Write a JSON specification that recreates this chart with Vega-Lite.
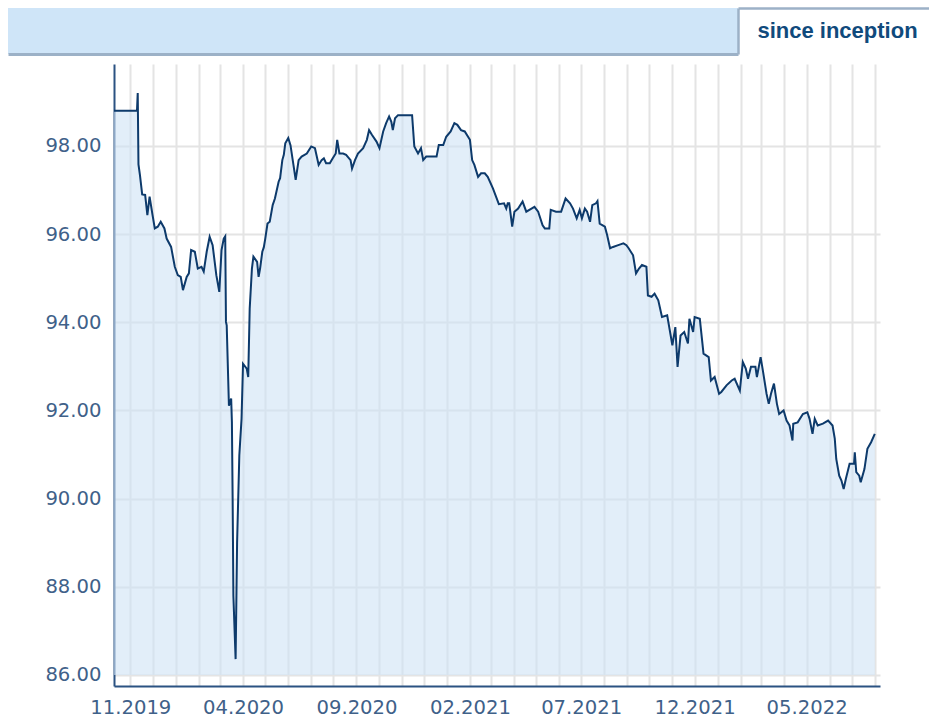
{
  "$schema": "https://vega.github.io/schema/vega-lite/v6.json",
  "background": "white",
  "padding": {"left": 8, "top": 8, "right": 0, "bottom": 0},
  "spacing": 10,
  "config": {"view": {"stroke": null}, "axis": {"domainCap": "butt"}},
  "vconcat": [
    {
      "spacing": 0,
      "hconcat": [
        {
          "width": 730,
          "height": 46,
          "view": {"fill": "#cfe5f8"},
          "data": {"values": [{"tab": "header"}]},
          "mark": {"type": "rect", "color": "#cfe5f8"},
          "encoding": {
            "x": {"field": "tab", "type": "nominal", "scale": {"paddingInner": 0, "paddingOuter": 0},
              "axis": {"orient": "bottom", "labels": false, "ticks": false, "title": null, "domainColor": "#9cb1c7", "domainWidth": 3}}
          }
        },
        {
          "width": 191,
          "height": 46,
          "data": {"values": [{"tab": "since inception"}]},
          "mark": {"type": "text", "font": "Liberation Sans", "fontSize": 22, "fontWeight": "bold", "color": "#104a7c", "dx": 4},
          "encoding": {
            "text": {"field": "tab"},
            "x": {"field": "tab", "type": "nominal", "axis": {"orient": "top", "labels": false, "ticks": false, "title": null, "domainColor": "#9cb1c7", "domainWidth": 2.5}},
            "y": {"field": "tab", "type": "nominal", "axis": {"orient": "left", "labels": false, "ticks": false, "title": null, "domainColor": "#9cb1c7", "domainWidth": 2.5}}
          }
        }
      ]
    },
    {
      "width": 872,
      "height": 622,
      "data": {"values": [
        {"date": "2019-10-10", "value": 98.80}, {"date": "2019-11-10", "value": 98.80}, {"date": "2019-11-11", "value": 99.20},
        {"date": "2019-11-12", "value": 97.58}, {"date": "2019-11-14", "value": 97.34}, {"date": "2019-11-17", "value": 96.90},
        {"date": "2019-11-21", "value": 96.89}, {"date": "2019-11-24", "value": 96.43}, {"date": "2019-11-27", "value": 96.85},
        {"date": "2019-12-01", "value": 96.43}, {"date": "2019-12-04", "value": 96.13}, {"date": "2019-12-08", "value": 96.17},
        {"date": "2019-12-12", "value": 96.28}, {"date": "2019-12-17", "value": 96.13}, {"date": "2019-12-20", "value": 95.90},
        {"date": "2019-12-26", "value": 95.71}, {"date": "2019-12-31", "value": 95.26}, {"date": "2020-01-04", "value": 95.07},
        {"date": "2020-01-08", "value": 95.03}, {"date": "2020-01-11", "value": 94.73}, {"date": "2020-01-16", "value": 95.03},
        {"date": "2020-01-19", "value": 95.11}, {"date": "2020-01-22", "value": 95.64}, {"date": "2020-01-27", "value": 95.60},
        {"date": "2020-01-31", "value": 95.22}, {"date": "2020-02-05", "value": 95.26}, {"date": "2020-02-08", "value": 95.15},
        {"date": "2020-02-12", "value": 95.60}, {"date": "2020-02-16", "value": 95.94}, {"date": "2020-02-20", "value": 95.75},
        {"date": "2020-02-25", "value": 95.07}, {"date": "2020-02-29", "value": 94.69}, {"date": "2020-03-03", "value": 95.64},
        {"date": "2020-03-06", "value": 95.90}, {"date": "2020-03-08", "value": 95.95}, {"date": "2020-03-09", "value": 94.01},
        {"date": "2020-03-10", "value": 93.93}, {"date": "2020-03-13", "value": 92.11}, {"date": "2020-03-16", "value": 92.27},
        {"date": "2020-03-17", "value": 91.74}, {"date": "2020-03-18", "value": 89.99}, {"date": "2020-03-19", "value": 87.80},
        {"date": "2020-03-22", "value": 86.36}, {"date": "2020-03-24", "value": 89.01}, {"date": "2020-03-27", "value": 90.98},
        {"date": "2020-03-30", "value": 91.81}, {"date": "2020-04-01", "value": 93.06}, {"date": "2020-04-06", "value": 92.95},
        {"date": "2020-04-08", "value": 92.76}, {"date": "2020-04-10", "value": 94.31}, {"date": "2020-04-13", "value": 95.22},
        {"date": "2020-04-15", "value": 95.49}, {"date": "2020-04-20", "value": 95.37}, {"date": "2020-04-22", "value": 95.03},
        {"date": "2020-04-24", "value": 95.22}, {"date": "2020-04-27", "value": 95.60}, {"date": "2020-04-29", "value": 95.70},
        {"date": "2020-05-01", "value": 95.90}, {"date": "2020-05-04", "value": 96.24}, {"date": "2020-05-07", "value": 96.28},
        {"date": "2020-05-11", "value": 96.66}, {"date": "2020-05-14", "value": 96.81}, {"date": "2020-05-19", "value": 97.19},
        {"date": "2020-05-21", "value": 97.27}, {"date": "2020-05-24", "value": 97.68}, {"date": "2020-05-26", "value": 97.80},
        {"date": "2020-05-28", "value": 98.06}, {"date": "2020-06-01", "value": 98.18}, {"date": "2020-06-04", "value": 98.02},
        {"date": "2020-06-08", "value": 97.57}, {"date": "2020-06-11", "value": 97.23}, {"date": "2020-06-15", "value": 97.68},
        {"date": "2020-06-19", "value": 97.76}, {"date": "2020-06-26", "value": 97.83}, {"date": "2020-07-02", "value": 97.99},
        {"date": "2020-07-07", "value": 97.95}, {"date": "2020-07-12", "value": 97.57}, {"date": "2020-07-16", "value": 97.68},
        {"date": "2020-07-19", "value": 97.72}, {"date": "2020-07-22", "value": 97.61}, {"date": "2020-07-27", "value": 97.61},
        {"date": "2020-07-31", "value": 97.72}, {"date": "2020-08-04", "value": 97.83}, {"date": "2020-08-06", "value": 98.14},
        {"date": "2020-08-09", "value": 97.83}, {"date": "2020-08-14", "value": 97.83}, {"date": "2020-08-18", "value": 97.80},
        {"date": "2020-08-24", "value": 97.68}, {"date": "2020-08-26", "value": 97.49}, {"date": "2020-08-30", "value": 97.68},
        {"date": "2020-09-03", "value": 97.83}, {"date": "2020-09-10", "value": 97.95}, {"date": "2020-09-15", "value": 98.14},
        {"date": "2020-09-18", "value": 98.36}, {"date": "2020-09-22", "value": 98.25}, {"date": "2020-09-28", "value": 98.10},
        {"date": "2020-10-02", "value": 97.95}, {"date": "2020-10-07", "value": 98.33}, {"date": "2020-10-11", "value": 98.52},
        {"date": "2020-10-15", "value": 98.67}, {"date": "2020-10-18", "value": 98.55}, {"date": "2020-10-20", "value": 98.36},
        {"date": "2020-10-23", "value": 98.63}, {"date": "2020-10-27", "value": 98.70}, {"date": "2020-11-15", "value": 98.70},
        {"date": "2020-11-18", "value": 97.99}, {"date": "2020-11-23", "value": 97.83}, {"date": "2020-11-27", "value": 97.95},
        {"date": "2020-11-30", "value": 97.68}, {"date": "2020-12-04", "value": 97.76}, {"date": "2020-12-09", "value": 97.76},
        {"date": "2020-12-18", "value": 97.76}, {"date": "2020-12-21", "value": 98.02}, {"date": "2020-12-27", "value": 98.02},
        {"date": "2020-12-31", "value": 98.21}, {"date": "2021-01-06", "value": 98.33}, {"date": "2021-01-11", "value": 98.52},
        {"date": "2021-01-15", "value": 98.48}, {"date": "2021-01-20", "value": 98.36}, {"date": "2021-01-25", "value": 98.33},
        {"date": "2021-02-01", "value": 98.14}, {"date": "2021-02-04", "value": 97.68}, {"date": "2021-02-07", "value": 97.57},
        {"date": "2021-02-12", "value": 97.30}, {"date": "2021-02-16", "value": 97.38}, {"date": "2021-02-21", "value": 97.38},
        {"date": "2021-02-25", "value": 97.30}, {"date": "2021-03-04", "value": 97.04}, {"date": "2021-03-12", "value": 96.68},
        {"date": "2021-03-19", "value": 96.70}, {"date": "2021-03-22", "value": 96.58}, {"date": "2021-03-24", "value": 96.70},
        {"date": "2021-03-26", "value": 96.70}, {"date": "2021-03-30", "value": 96.17}, {"date": "2021-04-02", "value": 96.51},
        {"date": "2021-04-07", "value": 96.58}, {"date": "2021-04-13", "value": 96.74}, {"date": "2021-04-18", "value": 96.51},
        {"date": "2021-04-25", "value": 96.58}, {"date": "2021-04-29", "value": 96.62}, {"date": "2021-05-04", "value": 96.51},
        {"date": "2021-05-10", "value": 96.20}, {"date": "2021-05-13", "value": 96.13}, {"date": "2021-05-19", "value": 96.13},
        {"date": "2021-05-21", "value": 96.55}, {"date": "2021-05-28", "value": 96.51}, {"date": "2021-06-04", "value": 96.51},
        {"date": "2021-06-10", "value": 96.81}, {"date": "2021-06-16", "value": 96.70}, {"date": "2021-06-20", "value": 96.58},
        {"date": "2021-06-25", "value": 96.36}, {"date": "2021-06-29", "value": 96.55}, {"date": "2021-07-02", "value": 96.36},
        {"date": "2021-07-06", "value": 96.58}, {"date": "2021-07-09", "value": 96.51}, {"date": "2021-07-13", "value": 96.28},
        {"date": "2021-07-16", "value": 96.66}, {"date": "2021-07-21", "value": 96.70}, {"date": "2021-07-23", "value": 96.75},
        {"date": "2021-07-26", "value": 96.24}, {"date": "2021-08-02", "value": 96.17}, {"date": "2021-08-05", "value": 95.98},
        {"date": "2021-08-09", "value": 95.68}, {"date": "2021-08-13", "value": 95.71}, {"date": "2021-08-20", "value": 95.75},
        {"date": "2021-08-27", "value": 95.79}, {"date": "2021-08-31", "value": 95.75}, {"date": "2021-09-03", "value": 95.68},
        {"date": "2021-09-09", "value": 95.52}, {"date": "2021-09-13", "value": 95.11}, {"date": "2021-09-17", "value": 95.22},
        {"date": "2021-09-21", "value": 95.30}, {"date": "2021-09-27", "value": 95.26}, {"date": "2021-09-29", "value": 94.61},
        {"date": "2021-10-04", "value": 94.58}, {"date": "2021-10-08", "value": 94.65}, {"date": "2021-10-13", "value": 94.50},
        {"date": "2021-10-18", "value": 94.12}, {"date": "2021-10-25", "value": 94.16}, {"date": "2021-11-01", "value": 93.48},
        {"date": "2021-11-05", "value": 93.89}, {"date": "2021-11-08", "value": 92.99}, {"date": "2021-11-12", "value": 93.70},
        {"date": "2021-11-17", "value": 93.78}, {"date": "2021-11-22", "value": 93.52}, {"date": "2021-11-24", "value": 94.08},
        {"date": "2021-11-29", "value": 93.78}, {"date": "2021-12-01", "value": 94.12}, {"date": "2021-12-08", "value": 94.08},
        {"date": "2021-12-13", "value": 93.29}, {"date": "2021-12-20", "value": 93.21}, {"date": "2021-12-23", "value": 92.68},
        {"date": "2021-12-28", "value": 92.76}, {"date": "2022-01-03", "value": 92.38}, {"date": "2022-01-06", "value": 92.42},
        {"date": "2022-01-13", "value": 92.57}, {"date": "2022-01-20", "value": 92.68}, {"date": "2022-01-24", "value": 92.72},
        {"date": "2022-01-31", "value": 92.45}, {"date": "2022-02-04", "value": 93.10}, {"date": "2022-02-08", "value": 92.95},
        {"date": "2022-02-11", "value": 92.72}, {"date": "2022-02-15", "value": 92.99}, {"date": "2022-02-21", "value": 92.99},
        {"date": "2022-02-23", "value": 92.76}, {"date": "2022-02-28", "value": 93.21}, {"date": "2022-03-03", "value": 92.91},
        {"date": "2022-03-08", "value": 92.38}, {"date": "2022-03-11", "value": 92.15}, {"date": "2022-03-14", "value": 92.38},
        {"date": "2022-03-18", "value": 92.61}, {"date": "2022-03-22", "value": 92.15}, {"date": "2022-03-25", "value": 91.92},
        {"date": "2022-03-31", "value": 92.00}, {"date": "2022-04-04", "value": 91.77}, {"date": "2022-04-08", "value": 91.66},
        {"date": "2022-04-12", "value": 91.32}, {"date": "2022-04-13", "value": 91.70}, {"date": "2022-04-19", "value": 91.73},
        {"date": "2022-04-26", "value": 91.92}, {"date": "2022-05-02", "value": 91.96}, {"date": "2022-05-05", "value": 91.81},
        {"date": "2022-05-09", "value": 91.47}, {"date": "2022-05-12", "value": 91.81}, {"date": "2022-05-16", "value": 91.66},
        {"date": "2022-05-23", "value": 91.70}, {"date": "2022-05-30", "value": 91.77}, {"date": "2022-06-05", "value": 91.66},
        {"date": "2022-06-08", "value": 91.36}, {"date": "2022-06-10", "value": 90.90}, {"date": "2022-06-14", "value": 90.52},
        {"date": "2022-06-17", "value": 90.41}, {"date": "2022-06-20", "value": 90.22}, {"date": "2022-06-23", "value": 90.45},
        {"date": "2022-06-28", "value": 90.79}, {"date": "2022-07-04", "value": 90.79}, {"date": "2022-07-05", "value": 91.05},
        {"date": "2022-07-07", "value": 90.60}, {"date": "2022-07-11", "value": 90.52}, {"date": "2022-07-13", "value": 90.37},
        {"date": "2022-07-18", "value": 90.67}, {"date": "2022-07-22", "value": 91.13}, {"date": "2022-07-27", "value": 91.28},
        {"date": "2022-08-01", "value": 91.47}
      ]},
      "encoding": {
        "x": {
          "field": "date", "type": "temporal",
          "scale": {"type": "utc", "range": [106, 872], "domain": [{"year": 2019, "month": 10, "date": 10, "utc": true}, {"year": 2022, "month": 8, "date": 8, "utc": true}]},
          "axis": {
            "title": null,
            "tickCount": {"interval": "month", "step": 1},
            "labelExpr": "(((utcyear(datum.value) - 2019) * 12 + utcmonth(datum.value) - 10) % 5 == 0) ? utcFormat(datum.value, '%m.%Y') : ''",
            "labelFont": "DejaVu Sans", "labelFontSize": 19.6, "labelColor": "#3f6189", "labelPadding": 12,
            "labelOverlap": false, "labelFlush": false,
            "ticks": false, "domainColor": "#2b5282", "domainWidth": 2,
            "grid": true, "gridColor": "#e4e4e4", "gridWidth": 2
          }
        }
      },
      "layer": [
        {
          "mark": {"type": "area", "color": "#cfe3f5", "opacity": 0.6},
          "encoding": {
            "y": {
              "field": "value", "type": "quantitative",
              "scale": {"domain": [85.75, 99.86], "nice": false, "zero": false},
              "axis": {
                "title": null, "values": [86, 88, 90, 92, 94, 96, 98], "format": ".2f", "offset": -106,
                "labelFont": "DejaVu Sans", "labelFontSize": 19.6, "labelColor": "#3f6189", "labelPadding": 13,
                "ticks": false, "domainColor": "#2b5282", "domainWidth": 2,
                "grid": true, "gridColor": "#e4e4e4", "gridWidth": 2
              }
            },
            "y2": {"datum": 86}
          }
        },
        {
          "mark": {"type": "line", "color": "#0d3a6b", "strokeWidth": 2},
          "encoding": {"y": {"field": "value", "type": "quantitative"}}
        }
      ]
    }
  ]
}
